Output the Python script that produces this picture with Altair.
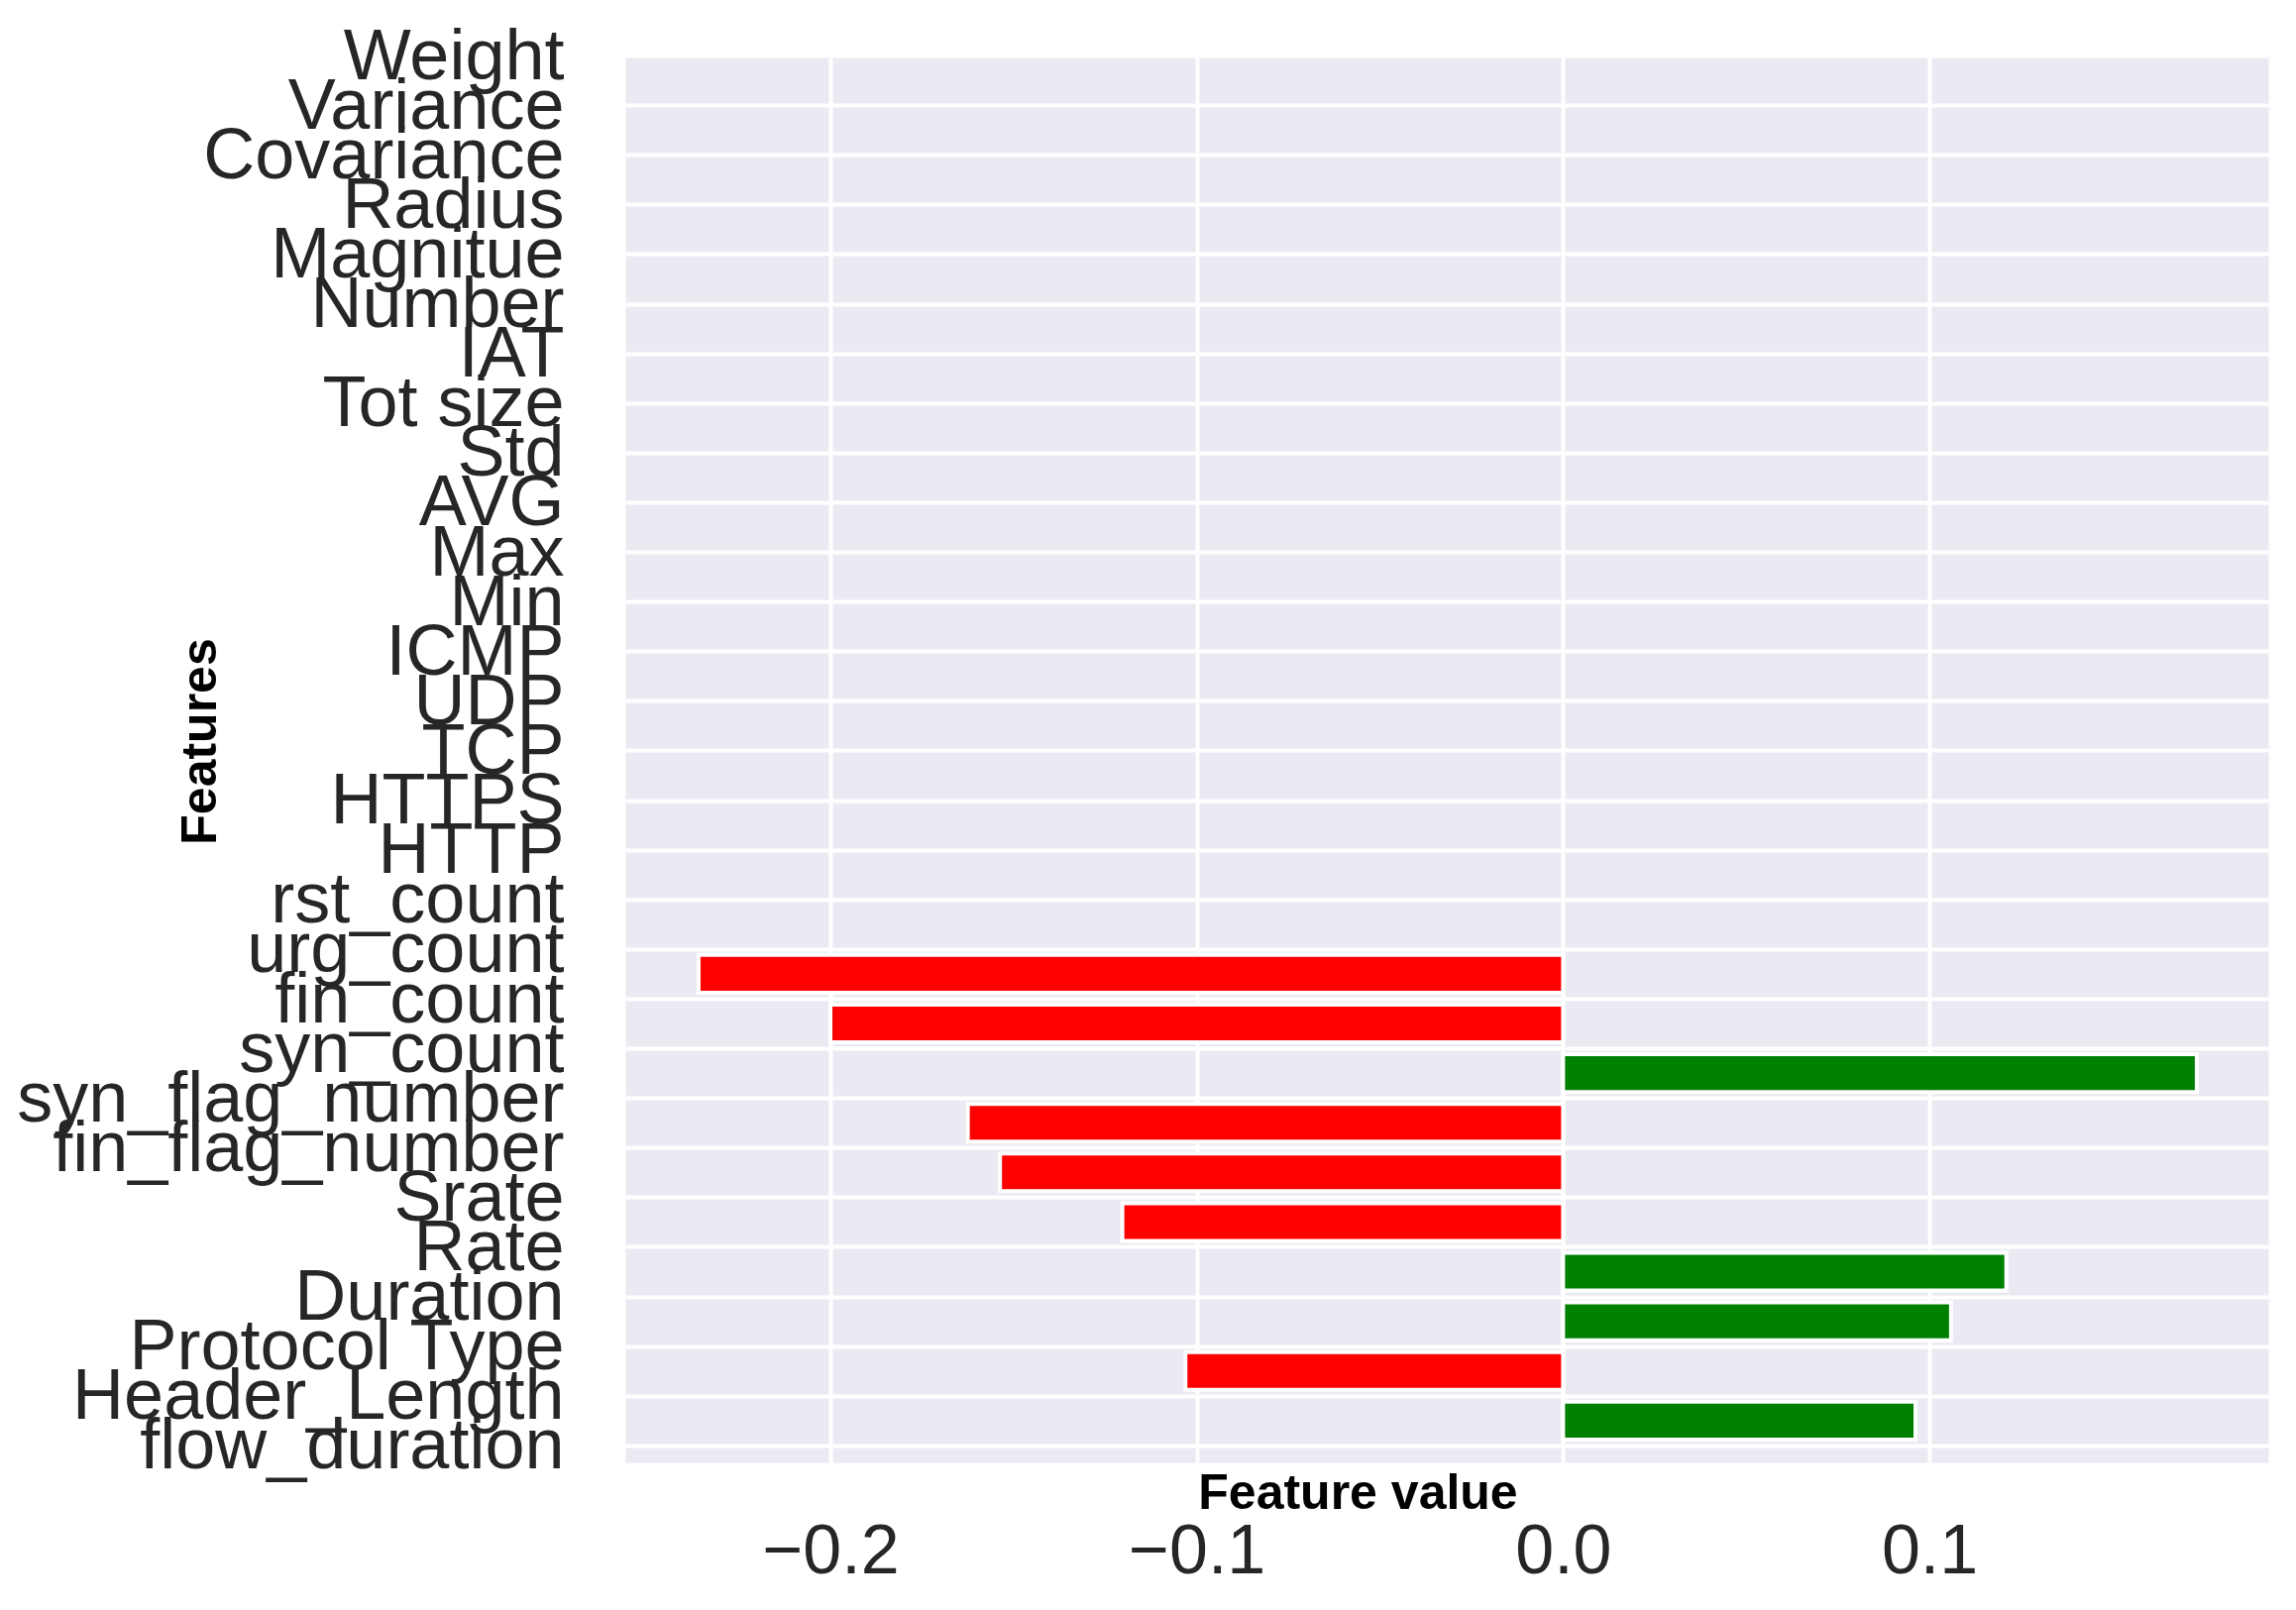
import altair as alt
import pandas as pd

features = ["Weight", "Variance", "Covariance", "Radius", "Magnitue", "Number", "IAT",
            "Tot size", "Std", "AVG", "Max", "Min", "ICMP", "UDP", "TCP", "HTTPS", "HTTP",
            "rst_count", "urg_count", "fin_count", "syn_count", "syn_flag_number",
            "fin_flag_number", "Srate", "Rate", "Duration", "Protocol Type",
            "Header_Length", "flow_duration"]
values = [0, 0, 0, 0, 0, 0, 0,
          0, 0, 0, 0, 0, 0, 0, 0, 0, 0,
          0, -0.236, -0.200, 0.173, -0.1625,
          -0.1537, -0.1203, 0.121, 0.1059, -0.1031,
          0.0962, 0]
x_ticks = [-0.2, -0.1, 0.0, 0.1]

df = pd.DataFrame({"feature": features, "value": values})

LABEL_FONT = "Liberation Sans"

chart = alt.Chart(df).transform_filter(
    alt.datum.value != 0
).mark_bar(
    height={"band": 0.76}, stroke="white", strokeWidth=4
).encode(
    x=alt.X("value:Q",
            scale=alt.Scale(domain=[-0.256, 0.1925], nice=False, zero=False),
            axis=alt.Axis(values=x_ticks, format=".1f", grid=True, gridColor="white",
                          gridWidth=4, ticks=False, tickSize=0, domain=False,
                          labelFont=LABEL_FONT, labelFontSize=70, labelColor="#262626",
                          labelPadding=56,
                          title="Feature value", titleFont=LABEL_FONT, titleFontSize=50,
                          titleFontWeight="bold", titleColor="black",
                          titleX=739, titleY=31, titleAlign="center",
                          titleBaseline="middle")),
    y=alt.Y("feature:N", sort=features,
            scale=alt.Scale(domain=features, range=[0, 1453], paddingInner=0, paddingOuter=0),
            axis=alt.Axis(grid=True, tickBand="extent", gridColor="white", gridWidth=4,
                          ticks=False, tickSize=0, domain=False,
                          labelFont=LABEL_FONT, labelFontSize=72, labelColor="#262626",
                          labelPadding=62, labelOffset=-24, labelOverlap=False,
                          labelLimit=1000,
                          title="Features", titleFont=LABEL_FONT, titleFontSize=50,
                          titleFontWeight="bold", titleColor="black",
                          titleX=-429, titleY=692, titleAlign="center",
                          titleBaseline="middle", titleAngle=270)),
    color=alt.condition(alt.datum.value < 0, alt.value("#FF0000"), alt.value("#008000"))
).properties(
    width=1658, height=1420,
    background="white",
    autosize=alt.AutoSizeParams(type="none"),
    padding={"left": 623, "top": 48, "right": 20, "bottom": 130}
).configure_view(
    fill="#EAEAF2", stroke="transparent"
)

chart.save("out.html", embed_options={"renderer": "svg", "actions": False})
